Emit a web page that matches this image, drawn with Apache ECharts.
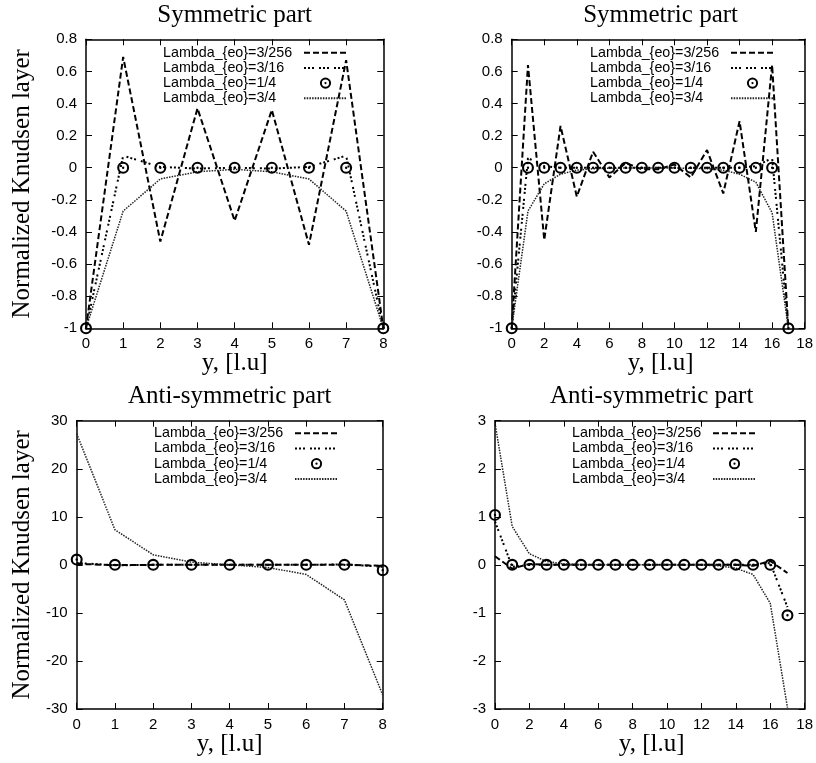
<!DOCTYPE html>
<html><head><meta charset="utf-8">
<script src="https://cdn.jsdelivr.net/npm/echarts@6/dist/echarts.min.js"></script>
<style>html,body{margin:0;padding:0;background:#fff}#c{width:816px;height:763px}</style>
</head><body><div id="c"></div>
<script>
// ---- data ----
const seriesNames = ['Lambda_{eo}=3/256', 'Lambda_{eo}=3/16', 'Lambda_{eo}=1/4', 'Lambda_{eo}=3/4'];
const panelTitles = ['Symmetric part', 'Symmetric part', 'Anti-symmetric part', 'Anti-symmetric part'];
const xAxisTitle = 'y, [l.u]';
const yAxisTitle = 'Normalized Knudsen layer';

const xShort = [0, 1, 2, 3, 4, 5, 6, 7, 8];
const xLong = [0, 1, 2, 3, 4, 5, 6, 7, 8, 9, 10, 11, 12, 13, 14, 15, 16, 17];

// Symmetric part, 9 nodes
const symA_short = [-1, 0.69, -0.46, 0.37, -0.33, 0.36, -0.48, 0.67, -1];
const symB_short = [-1, 0.075, 0.005, -0.005, 0.0, -0.005, 0.005, 0.075, -1];
const symC_short = [-1, 0, 0, 0, 0, 0, 0, 0, -1];
const symD_short = [-1, -0.27, -0.07, -0.025, -0.01, -0.025, -0.07, -0.27, -1];

// Symmetric part, 18 nodes
const symA_long = [-1, 0.64, -0.45, 0.26, -0.18, 0.10, -0.06, 0.03, -0.01, -0.01, 0.02, -0.06, 0.11, -0.16, 0.29, -0.40, 0.64, -1];
const symB_long = [-1, 0.06, 0.01, 0.0, 0.0, 0.0, 0.0, 0.0, 0.0, 0.0, 0.0, 0.0, 0.0, 0.0, 0.0, 0.01, 0.06, -1];
const symC_long = [-1, 0, 0, 0, 0, 0, 0, 0, 0, 0, 0, 0, 0, 0, 0, 0, 0, -1];
const symD_long = [-1, -0.27, -0.10, -0.04, -0.015, -0.006, -0.003, -0.002, -0.001, -0.001, -0.002, -0.003, -0.006, -0.015, -0.04, -0.09, -0.28, -1];

// Anti-symmetric part, 9 nodes
const antiA_short = [0.2, -0.05, 0.0, 0.0, 0.0, 0.0, 0.0, 0.05, -0.2];
const antiB_short = [0.4, -0.1, 0.0, 0.0, 0.0, 0.0, 0.0, 0.1, -0.4];
const antiC_short = [1.1, 0, 0, 0, 0, 0, 0, 0, -1.1];
const antiD_short = [27.3, 7.3, 2.1, 0.55, 0.0, -0.55, -2.0, -7.3, -27.1];

// Anti-symmetric part, 18 nodes
const antiA_long = [0.18, -0.08, 0.02, 0.0, 0.0, 0.0, 0.0, 0.0, 0.0, 0.0, 0.0, 0.0, 0.0, 0.0, 0.0, -0.02, 0.08, -0.17];
const antiB_long = [0.9, -0.04, 0.0, 0.0, 0.0, 0.0, 0.0, 0.0, 0.0, 0.0, 0.0, 0.0, 0.0, 0.0, 0.0, 0.0, 0.04, -0.88];
const antiC_long = [1.04, 0, 0, 0, 0, 0, 0, 0, 0, 0, 0, 0, 0, 0, 0, 0, 0, -1.05];
const antiD_long = [2.95, 0.8, 0.23, 0.07, 0.02, 0.005, 0.002, 0.0, 0.0, 0.0, 0.0, -0.002, -0.005, -0.02, -0.07, -0.2, -0.8, -2.97];

// axis ranges per panel
const xRanges = [[0, 8, 1], [0, 18, 2], [0, 8, 1], [0, 18, 2]];
const yRanges = [[-1, 0.8, 0.2], [-1, 0.8, 0.2], [-30, 30, 10], [-3, 3, 1]];

// ---- layout / style ----
const grids = [
  {left: 86, top: 39.3, right: 432.7, bottom: 434.7},
  {left: 511.7, top: 39.3, right: 6.5, bottom: 434.7},
  {left: 76.7, top: 420.7, right: 433.3, bottom: 54},
  {left: 495, top: 420.7, right: 7.7, bottom: 54}
];
const legendPos = [
  {right: 468, top: 45.2},
  {right: 41, top: 45.2},
  {right: 477, top: 425.8},
  {right: 59, top: 425.8}
];
const panelData = [
  [xShort, [symA_short, symB_short, symC_short, symD_short]],
  [xLong, [symA_long, symB_long, symC_long, symD_long]],
  [xShort, [antiA_short, antiB_short, antiC_short, antiD_short]],
  [xLong, [antiA_long, antiB_long, antiC_long, antiD_long]]
];
const ring = 'path://M10,0A10,10 0 1,1 10,20A10,10 0 1,1 10,0ZM10,3.5A6.5,6.5 0 1,0 10,16.5A6.5,6.5 0 1,0 10,3.5ZM10,8A2,2 0 1,1 10,12A2,2 0 1,1 10,8Z';
const hidden = {color: '#000', opacity: 0};
const styles = [
  {symbol: 'none', itemStyle: hidden, lineStyle: {color: '#000', width: 2, type: [6, 3]}},
  {symbol: 'none', itemStyle: hidden, lineStyle: {color: '#000', width: 2, type: [2, 2, 2, 2, 2, 5]}},
  {symbol: ring, symbolSize: 12, itemStyle: {color: '#000'}, lineStyle: {color: '#000', width: 0, opacity: 0}},
  {symbol: 'none', itemStyle: hidden, lineStyle: {color: '#222', width: 1.5, type: [1.5, 1.2]}}
];
const SANS = 'Liberation Sans, Arial, sans-serif';
const SERIF = 'Liberation Serif, Times New Roman, serif';
const LEG_FS = 14.3, LEG_BOX = 136;

// left-aligned legend texts: pad each label with a spacer token
const ctx = document.createElement('canvas').getContext('2d');
ctx.font = LEG_FS + 'px ' + SANS;
const legendRich = {};
const padIndex = {};
seriesNames.forEach((n, i) => {
  padIndex[n] = i;
  legendRich['p' + i] = {width: Math.max(1, LEG_BOX - ctx.measureText(n).width), lineHeight: 15, fontSize: LEG_FS, fontFamily: SANS};
});

const xAxes = [], yAxes = [], series = [], legends = [], graphics = [];
grids.forEach((g, p) => {
  const [xmin, xmax, xint] = xRanges[p];
  const [ymin, ymax, yint] = yRanges[p];
  const line = {onZero: false, lineStyle: {color: '#000', width: 1.5}};
  const tick = {inside: true, length: 6, lineStyle: {color: '#000', width: 1}};
  const lab = {color: '#000', fontFamily: SANS, fontSize: 15};
  xAxes.push({gridIndex: p, type: 'value', min: xmin, max: xmax, interval: xint, position: 'bottom',
    axisLine: line, axisTick: tick, axisLabel: Object.assign({margin: 8}, lab), splitLine: {show: false}});
  xAxes.push({gridIndex: p, type: 'value', min: xmin, max: xmax, interval: xint, position: 'top',
    axisLine: line, axisTick: tick, axisLabel: {show: false}, splitLine: {show: false}});
  yAxes.push({gridIndex: p, type: 'value', min: ymin, max: ymax, interval: yint, position: 'left',
    axisLine: line, axisTick: tick, axisLabel: Object.assign({margin: 9}, lab), splitLine: {show: false}});
  yAxes.push({gridIndex: p, type: 'value', min: ymin, max: ymax, interval: yint, position: 'right',
    axisLine: line, axisTick: tick, axisLabel: {show: false}, splitLine: {show: false}});

  const [xs, ys] = panelData[p];
  ys.forEach((arr, k) => {
    series.push(Object.assign({
      type: 'line', name: seriesNames[k], xAxisIndex: 2 * p, yAxisIndex: 2 * p,
      data: xs.map((x, i) => [x, arr[i]]), z: k === 2 ? 5 : 3,
      showSymbol: k === 2, clip: true, silent: true
    }, styles[k]));
  });

  legends.push({
    data: seriesNames, orient: 'vertical', align: 'right', right: legendPos[p].right, top: legendPos[p].top,
    padding: 0, itemWidth: 43, itemHeight: 14, itemGap: 0.2, selectedMode: false,
    formatter: name => name + '{p' + padIndex[name] + '| }',
    textStyle: {fontFamily: SANS, fontSize: LEG_FS, color: '#000', lineHeight: 15, rich: legendRich}
  });

  const cx = g.left + (816 - g.left - g.right) / 2;
  const top = g.top, bottom = 763 - g.bottom;
  graphics.push({type: 'text', x: cx, y: top - 24.3, style: {text: panelTitles[p], font: '25px ' + SERIF, fill: '#000', textAlign: 'center', textVerticalAlign: 'middle'}});
  graphics.push({type: 'text', x: cx, y: bottom + 35, style: {text: xAxisTitle, font: '25px ' + SERIF, fill: '#000', textAlign: 'center', textVerticalAlign: 'middle'}});
  if (p === 0 || p === 2) {
    graphics.push({type: 'text', x: 22.7, y: (top + bottom) / 2, rotation: Math.PI / 2,
      style: {text: yAxisTitle, font: '25px ' + SERIF, fill: '#000', textAlign: 'center', textVerticalAlign: 'middle'}});
  }
});

const chart = echarts.init(document.getElementById('c'), null, {renderer: 'canvas'});
chart.setOption({
  animation: false,
  backgroundColor: '#fff',
  grid: grids,
  xAxis: xAxes,
  yAxis: yAxes,
  legend: legends,
  series: series,
  graphic: graphics
});
</script>
</body></html>
